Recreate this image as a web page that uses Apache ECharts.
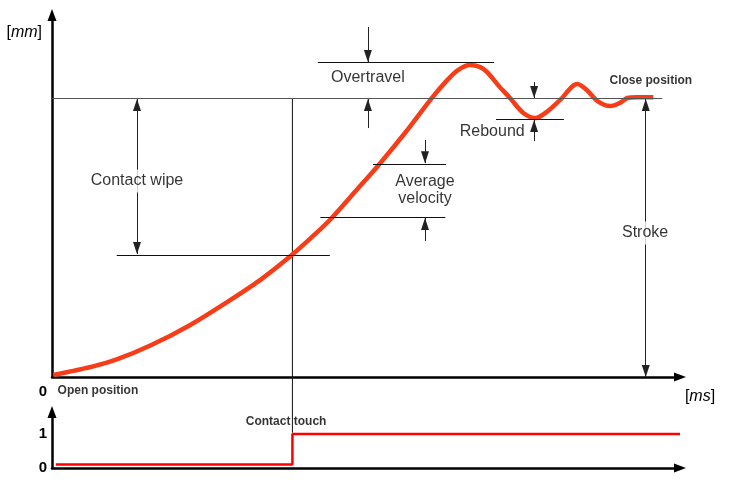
<!DOCTYPE html>
<html>
<head>
<meta charset="utf-8">
<script src="https://cdn.jsdelivr.net/npm/echarts@6/dist/echarts.min.js"></script>
<style>
  html, body { margin: 0; padding: 0; background: #fff; }
  #chart-container { width: 735px; height: 487px; }
</style>
</head>
<body>
<div id="chart-container"></div>
<script>
// travel curve: time [ms] vs contact travel [mm], close position = 100
var travelTime = [0.2, 3.3, 6.5, 10.2, 15.5, 21.8, 27.6, 32.8, 37.8, 41.0, 43.8, 47.8, 51.7, 55.7, 59.8, 62.3, 64.0,
  65.9, 67.5, 68.6, 70.6, 72.2, 74.3, 76.2, 78.0, 80.1, 82.8, 84.3, 86.0, 88.0, 89.5, 90.7, 92.2, 94.8];
var travelMm = [0.7, 2.2, 3.8, 6.3, 11.3, 18.7, 26.9, 34.8, 43.8, 50.3, 56.4, 66.6, 76.7, 87.8, 100.0, 106.6, 110.2,
  112.0, 111.3, 109.5, 104.1, 100.2, 94.8, 93.0, 95.2, 99.5, 105.2, 103.1, 99.1, 97.3, 98.4, 100.2, 100.5, 100.5];

var closePosition = 100;
var contactTouchTime = 37.9;
var contactTouchLineEnd = -20; // runs down to the contact signal

// contact signal: 0 = open, 1 = touching
var signalTime = [0.6, 37.9, 37.9, 99];
var signalValue = [0.1, 0.1, 1, 1];

// horizontal reference levels: [from ms, to ms, mm]
var levelLines = [
  [0, 96.2, closePosition],
  [41.9, 69.7, 113.1],
  [70.0, 80.7, 92.6],
  [50.6, 62.1, 76.5],
  [42.3, 62.0, 57.5],
  [10.2, 43.8, 43.8]
];

// dimension arrows: [ms, from mm, tip mm, both ends]
var arrows = [
  [49.8, 125.7, 113.1, false],
  [49.8, 89.4, 99.8, false],
  [76.0, 105.9, 100.2, false],
  [76.0, 84.7, 92.3, false],
  [58.8, 85.1, 76.8, false],
  [58.8, 48.8, 57.1, false],
  [13.4, 99.8, 44.2, true],
  [93.6, 99.8, 0, true]
];

// text notes: [text, ms, mm]
var notes = [
  ['Overtravel', 49.8, 107.4],
  ['Rebound', 69.4, 88.3],
  ['Average\nvelocity', 58.8, 67.0],
  ['Contact wipe', 13.4, 70.4],
  ['Stroke', 93.5, 51.7],
  ['Close position', 94.4, 106.3],
  ['Open position', 0.8, -5.0]
];
var signalNotes = [['Contact touch', 36.9, 1.37]];

var FONT = 'Liberation Sans, Arial, sans-serif';

function zip(xs, ys) {
  return xs.map(function (x, i) { return [x, ys[i]]; });
}

function noteLabel(name) {
  var bold = name === 'Close position' || name === 'Open position' || name === 'Contact touch';
  var lbl = {
    show: true,
    formatter: '{b}',
    position: 'inside',
    fontFamily: FONT,
    fontSize: bold ? 12 : 16,
    fontWeight: bold ? 'bold' : 'normal',
    lineHeight: 17,
    color: '#000'
  };
  if (name === 'Open position') {
    lbl.position = 'right';
    lbl.distance = 0;
  }
  if (name === 'Contact wipe' || name === 'Stroke') {
    lbl.backgroundColor = '#fff';
    lbl.padding = [3, 2];
  }
  return lbl;
}

function noteData(list) {
  return list.map(function (n) {
    return { name: n[0], value: [n[1], n[2]], label: noteLabel(n[0]) };
  });
}

// arrow head: tip sits on the end point
var head = { symbol: 'triangle', symbolSize: [8, 12], symbolOffset: [0, 6] };

var markData = levelLines.map(function (l, i) {
  var style = i === 0 ? { color: '#555', width: 1.2 } : { color: '#111', width: 1 };
  return [
    { coord: [l[0], l[2]], symbol: 'none', lineStyle: style },
    { coord: [l[1], l[2]], symbol: 'none' }
  ];
}).concat(arrows.map(function (a) {
  var from = { coord: [a[0], a[1]], lineStyle: { color: '#222', width: 1 } };
  if (a[3]) Object.assign(from, head); else from.symbol = 'none';
  var to = Object.assign({ coord: [a[0], a[2]] }, head);
  return [from, to];
}));

var axisLineStyle = {
  show: true,
  symbol: ['none', 'triangle'],
  symbolSize: [9, 12],
  lineStyle: { color: '#000', width: 2.5 }
};

var dom = document.getElementById('chart-container');
var myChart = echarts.init(dom, null, { renderer: 'canvas' });

var option = {
  animation: false,
  backgroundColor: '#fff',
  grid: [
    { left: 52, right: 55, top: 15, bottom: 110 },
    { left: 52, right: 55, top: 412, bottom: 19 }
  ],
  xAxis: [
    {
      gridIndex: 0, type: 'value', min: 0, max: 99,
      axisLine: axisLineStyle,
      axisTick: { show: false }, axisLabel: { show: false }, splitLine: { show: false },
      name: '[{i|ms}]', nameLocation: 'end', nameGap: 20,
      nameTextStyle: {
        fontFamily: FONT, fontSize: 16, color: '#000', align: 'center', verticalAlign: 'top',
        padding: [12, 0, 0, 0], rich: { i: { fontFamily: FONT, fontSize: 16, fontStyle: 'italic', color: '#000' } }
      }
    },
    {
      gridIndex: 1, type: 'value', min: 0, max: 99,
      axisLine: axisLineStyle,
      axisTick: { show: false }, axisLabel: { show: false }, splitLine: { show: false }
    }
  ],
  yAxis: [
    {
      gridIndex: 0, type: 'value', min: 0, max: 130,
      axisLine: axisLineStyle,
      axisTick: { show: false }, splitLine: { show: false },
      axisLabel: {
        show: true, customValues: [0], margin: 5, verticalAlign: 'top', padding: [7, 0, 0, 0],
        fontFamily: FONT, fontSize: 15, fontWeight: 'bold', color: '#000'
      },
      name: '[{i|mm}]', nameLocation: 'end', nameGap: -18,
      nameTextStyle: {
        fontFamily: FONT, fontSize: 16, color: '#000', align: 'right', verticalAlign: 'middle',
        padding: [0, 10, 0, 0], rich: { i: { fontFamily: FONT, fontSize: 16, fontStyle: 'italic', color: '#000' } }
      }
    },
    {
      gridIndex: 1, type: 'value', min: 0, max: 1.65,
      axisLine: axisLineStyle,
      axisTick: { show: false }, splitLine: { show: false },
      axisLabel: {
        show: true, customValues: [0, 1], margin: 5, padding: [8, 0, 0, 0],
        fontFamily: FONT, fontSize: 15, fontWeight: 'bold', color: '#000'
      }
    }
  ],
  series: [
    {
      name: 'contact touch',
      type: 'line',
      xAxisIndex: 0, yAxisIndex: 0,
      clip: false, silent: true, symbol: 'none', z: 1,
      lineStyle: { color: '#111', width: 1 },
      data: [[contactTouchTime, closePosition], [contactTouchTime, contactTouchLineEnd]]
    },
    {
      name: 'travel',
      type: 'line',
      xAxisIndex: 0, yAxisIndex: 0,
      smooth: 0.3, symbol: 'none', silent: true, z: 3,
      color: '#111',
      lineStyle: { color: '#f83c18', width: 4.5 },
      data: zip(travelTime, travelMm),
      markLine: {
        silent: true, animation: false,
        label: { show: false },
        itemStyle: { color: '#111' },
        lineStyle: { type: 'solid', color: '#111', width: 1 },
        data: markData
      }
    },
    {
      name: 'notes',
      type: 'scatter',
      xAxisIndex: 0, yAxisIndex: 0,
      clip: false, silent: true, z: 5,
      symbolSize: 1,
      itemStyle: { color: 'rgba(0,0,0,0)' },
      data: noteData(notes)
    },
    {
      name: 'signal',
      type: 'line',
      xAxisIndex: 1, yAxisIndex: 1,
      symbol: 'none', silent: true, z: 3,
      lineStyle: { color: '#ff0000', width: 2.5 },
      data: zip(signalTime, signalValue)
    },
    {
      name: 'signal notes',
      type: 'scatter',
      xAxisIndex: 1, yAxisIndex: 1,
      clip: false, silent: true, z: 5,
      symbolSize: 1,
      itemStyle: { color: 'rgba(0,0,0,0)' },
      data: noteData(signalNotes)
    }
  ]
};

myChart.setOption(option);
window.addEventListener('resize', myChart.resize);
</script>
</body>
</html>
